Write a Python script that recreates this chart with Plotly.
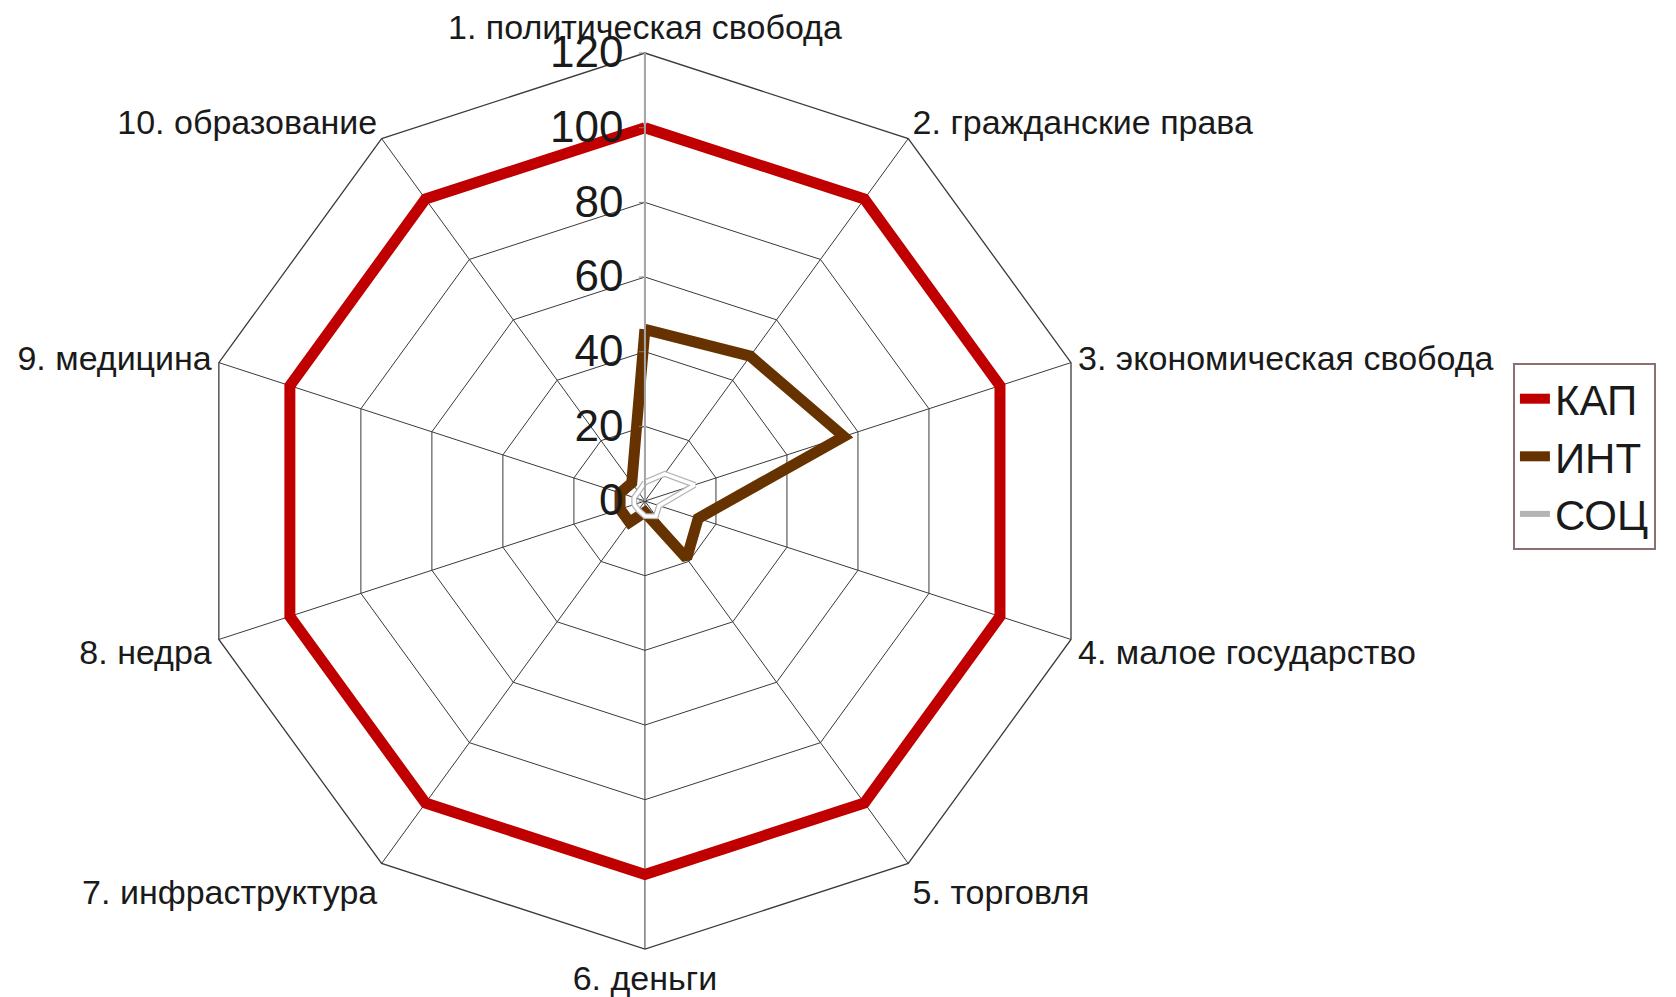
import plotly.graph_objects as go

# Categories (clockwise from the top)
categories = [
    "1. политическая свобода",
    "2. гражданские права",
    "3. экономическая свобода",
    "4. малое государство",
    "5. торговля",
    "6. деньги",
    "7. инфраструктура",
    "8. недра",
    "9. медицина",
    "10. образование",
]

# Series values
kap = [100, 100, 100, 100, 100, 100, 100, 100, 100, 100]
int_vals = [46, 48, 56, 15, 19, 3, 7, 7, 7, 6]
soc = [5, 9, 14, 4, 5, 4, 3, 3, 3, 3]

radial_ticks = [0, 20, 40, 60, 80, 100, 120]


def closed(values):
    return list(values) + [values[0]]


theta = closed(categories)

fig = go.Figure()

fig.add_trace(go.Scatterpolar(
    r=closed(kap), theta=theta, mode="lines", name="КАП",
    line=dict(color="#c00000", width=11),
))
fig.add_trace(go.Scatterpolar(
    r=closed(int_vals), theta=theta, mode="lines", name="ИНТ",
    line=dict(color="#663300", width=11),
))
# white line with a thin grey rim
fig.add_trace(go.Scatterpolar(
    r=closed(soc), theta=theta, mode="lines", name="СОЦ",
    line=dict(color="#b4b4b4", width=6), legendgroup="soc",
    hoverinfo="skip",
))
fig.add_trace(go.Scatterpolar(
    r=closed(soc), theta=theta, mode="lines", name="СОЦ",
    line=dict(color="#ffffff", width=3.5), legendgroup="soc",
    showlegend=False,
))

fig.update_layout(
    width=1676, height=997,
    margin=dict(l=0, r=0, t=0, b=0),
    paper_bgcolor="white",
    font=dict(family="Liberation Sans, Arial, sans-serif", color="#1a1a1a"),
    polar=dict(
        domain=dict(x=[0.1175, 0.6521], y=[0.0481, 0.9468]),
        bgcolor="white",
        gridshape="linear",
        radialaxis=dict(
            range=[0, 120],
            tickvals=radial_ticks,
            ticktext=[str(v) for v in radial_ticks],
            angle=90,
            side="counterclockwise",
            tickangle=90,
            ticks="outside",
            ticklen=5,
            tickcolor="#7f7f7f",
            showline=True,
            linecolor="#a6a6a6",
            linewidth=2,
            gridcolor="#3a3a3a",
            gridwidth=1.3,
            tickfont=dict(size=44, color="#1a1a1a"),
        ),
        angularaxis=dict(
            direction="clockwise",
            rotation=90,
            showline=True,
            linecolor="#3a3a3a",
            linewidth=1.3,
            gridcolor="#3a3a3a",
            gridwidth=1.3,
            ticks="",
            tickfont=dict(size=34, color="#1a1a1a"),
        ),
    ),
    legend=dict(
        x=0.9027, y=0.636, xanchor="left", yanchor="top",
        bordercolor="#8c6f6f", borderwidth=2,
        font=dict(size=42, color="#1a1a1a"),
        tracegroupgap=0,
        itemwidth=30,
    ),
)

fig.write_html("out.html")
